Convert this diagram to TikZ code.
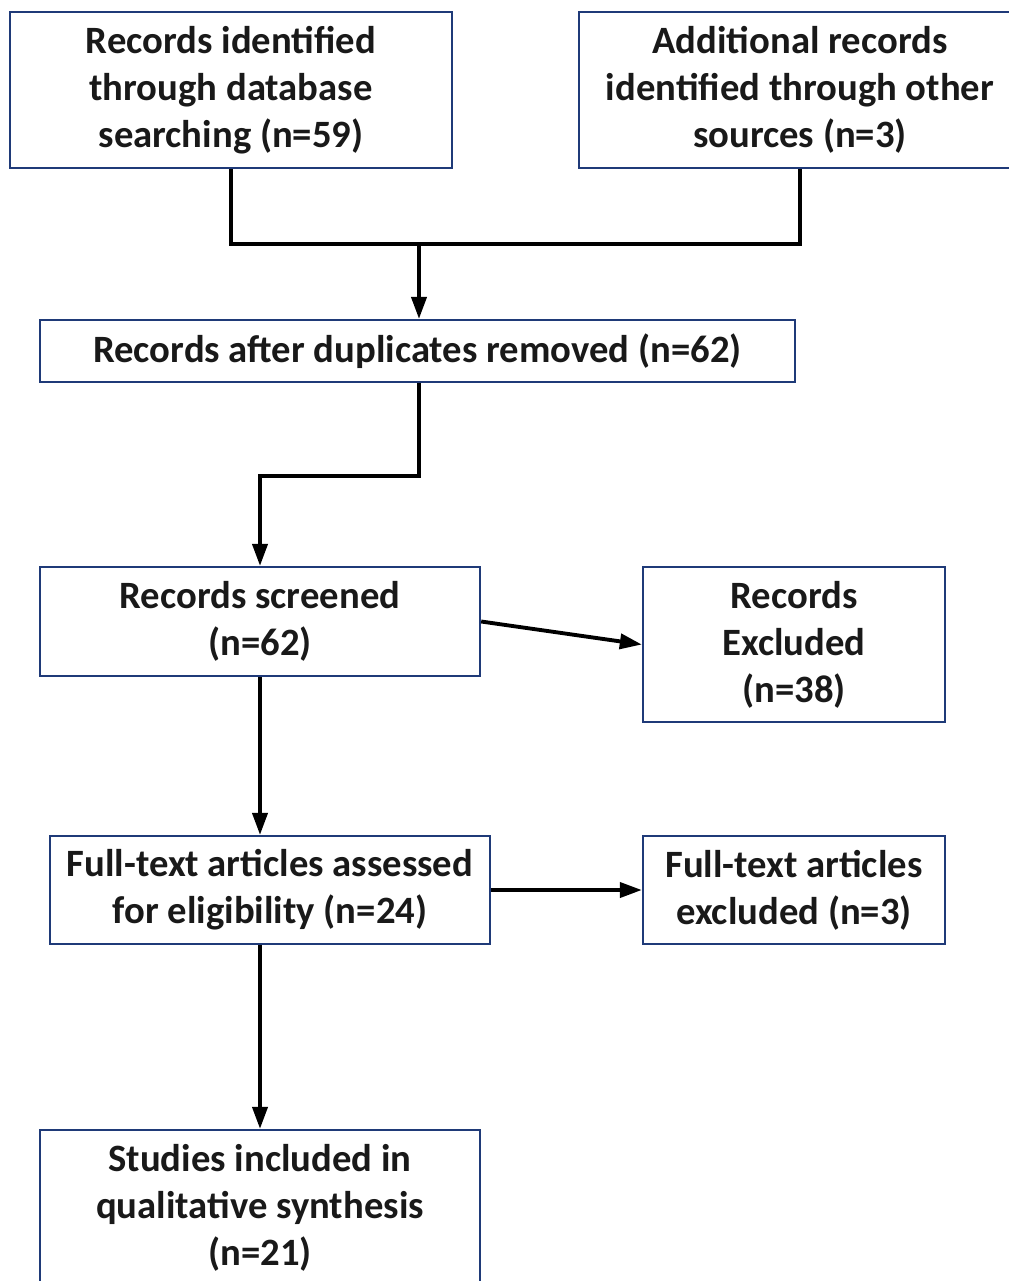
\documentclass[tikz,border=0pt]{standalone}
\usepackage{fontspec}
\setmainfont{Carlito}
\usetikzlibrary{arrows.meta, positioning}
\definecolor{boxblue}{HTML}{1F3A78}

\begin{document}
\begin{tikzpicture}[
    x=0.01cm, y=0.01cm,
    box/.style={rectangle, draw=boxblue, line width=0.6pt, align=center, inner sep=2pt,
      font=\fontsize{11}{13.4}\selectfont\bfseries, text=black!90},
    arrow/.style={-{Triangle[length=2.2mm,width=1.5mm]}, line width=1.1pt},
    link/.style={line width=1.1pt}
  ]
  \useasboundingbox (0,0) rectangle (1008,-1281);

  % Identificacion
  \node[box, minimum width=4.42cm, minimum height=1.56cm] (rec) at (231,-90) {Records identified\\through database\\searching (n=59)};
  \node[box, minimum width=4.42cm, minimum height=1.56cm] (add) at (800,-90) {Additional records\\identified through other\\sources (n=3)};

  % Cribado
  \node[box, minimum width=7.55cm, minimum height=0.62cm] (dup) at (417.5,-351) {Records after duplicates removed (n=62)};
  \node[box, minimum width=4.4cm, minimum height=1.09cm] (scr) at (260,-621.5) {Records screened\\(n=62)};
  \node[box, minimum width=3.02cm, minimum height=1.55cm] (exc) at (794,-644.5) {Records\\Excluded\\(n=38)};

  % Elegibilidad e inclusion
  \node[box, minimum width=4.4cm, minimum height=1.08cm] (full) at (270,-890) {Full-text articles assessed\\for eligibility (n=24)};
  \node[box, minimum width=3.02cm, minimum height=1.08cm] (fexc) at (794,-890) {Full-text articles\\excluded (n=3)};
  \node[box, minimum width=4.4cm, minimum height=1.56cm] (inc) at (260,-1208) {Studies included in\\qualitative synthesis\\(n=21)};

  % Puntos de union
  \coordinate (merge) at (419,-244);
  \coordinate (bend) at (419,-476);

  % Conectores
  \draw[link] (rec.south) |- (merge) -| (add.south);
  \draw[arrow] (merge) -- (merge |- dup.north);
  \draw[arrow] (merge |- dup.south) -- (bend) -| (scr.north);
  \draw[arrow] (scr.east) -- (exc.west);
  \draw[arrow] (scr.south) -- (scr.south |- full.north);
  \draw[arrow] (full.east) -- (fexc.west);
  \draw[arrow] (scr.south |- full.south) -- (inc.north);
\end{tikzpicture}
\end{document}
